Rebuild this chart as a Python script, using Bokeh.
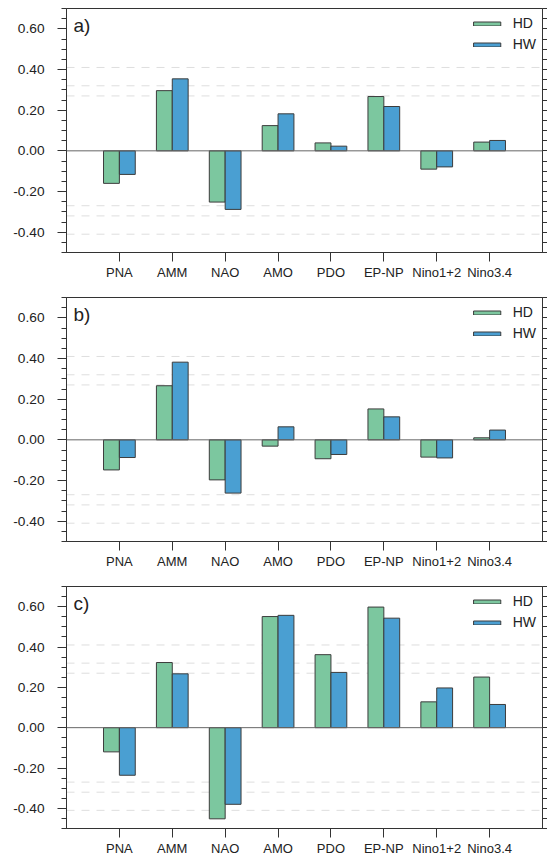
from bokeh.plotting import figure
from bokeh.layouts import column
from bokeh.models import (ColumnDataSource, FixedTicker, LinearAxis, Span, Label,
                          NumeralTickFormatter, Range1d, Legend, LegendItem,
                          CustomLabelingPolicy)
from bokeh.transform import dodge
from bokeh.embed import file_html
from bokeh.resources import INLINE

categories = ["PNA", "AMM", "NAO", "AMO", "PDO", "EP-NP", "Nino1+2", "Nino3.4"]
hd_a = [-0.160, 0.296, -0.252, 0.124, 0.039, 0.267, -0.090, 0.043]
hw_a = [-0.116, 0.354, -0.288, 0.182, 0.023, 0.218, -0.079, 0.051]
hd_b = [-0.148, 0.266, -0.197, -0.031, -0.093, 0.152, -0.085, 0.010]
hw_b = [-0.087, 0.382, -0.262, 0.064, -0.072, 0.113, -0.089, 0.048]
hd_c = [-0.120, 0.323, -0.452, 0.551, 0.362, 0.598, 0.128, 0.251]
hw_c = [-0.236, 0.267, -0.380, 0.557, 0.274, 0.543, 0.197, 0.115]
sig_levels = [0.27, 0.32, 0.41]
y_major = [-0.4, -0.2, 0.0, 0.2, 0.4, 0.6]
y_minor = [round(-0.5 + 0.05 * k, 2) for k in range(25)]
panel_labels = ["a)", "b)", "c)"]

FONT = "Liberation Sans"
GREEN = "#7cc79f"
BLUE = "#4a9fd2"
EDGE = "#3c3c3c"
AX = "#333333"


def make_panel(hd, hw, tag, height, bottom_border):
    xs = list(range(1, len(categories) + 1))
    src = ColumnDataSource(dict(x=xs, hd=hd, hw=hw))
    p = figure(width=547, height=height, output_backend="svg", toolbar_location=None,
               x_range=Range1d(0, 9), y_range=Range1d(-0.5, 0.7),
               min_border_left=66, min_border_right=5, min_border_top=8,
               min_border_bottom=bottom_border)
    p.xgrid.visible = False
    p.ygrid.visible = False
    p.outline_line_color = AX
    p.outline_line_width = 1

    for lv in sig_levels:
        for s in (1, -1):
            p.add_layout(Span(location=s * lv, dimension="width", line_color="#dedede",
                              line_width=1, line_dash="8 7", level="underlay"))

    r1 = p.vbar(x=dodge("x", -0.15, range=p.x_range), top="hd", bottom=0, width=0.3,
                source=src, fill_color=GREEN, line_color=EDGE, line_width=1)
    r2 = p.vbar(x=dodge("x", 0.15, range=p.x_range), top="hw", bottom=0, width=0.3,
                source=src, fill_color=BLUE, line_color=EDGE, line_width=1)
    p.add_layout(Span(location=0, dimension="width", line_color="#666666", line_width=1))

    # x axis
    xa = p.xaxis[0]
    xa.ticker = FixedTicker(ticks=xs, minor_ticks=[])
    xa.major_label_overrides = {x: c for x, c in zip(xs, categories)}
    xa.major_tick_in = 0
    xa.major_tick_out = 9
    xa.minor_tick_out = 0
    xa.major_label_standoff = 3
    xa.major_label_text_font = FONT
    xa.major_label_text_font_size = "13px"
    xa.major_label_text_color = "#222222"
    xa.axis_line_color = AX
    xa.major_tick_line_color = AX

    # y axis
    ya = p.yaxis[0]
    ya.ticker = FixedTicker(ticks=y_major, minor_ticks=y_minor)
    ya.formatter = NumeralTickFormatter(format="0.00")
    ya.major_tick_in = 0
    ya.major_tick_out = 9
    ya.minor_tick_in = 0
    ya.minor_tick_out = 5
    ya.major_label_standoff = 13
    ya.major_label_text_font = FONT
    ya.major_label_text_font_size = "13.7px"
    ya.major_label_text_color = "#222222"
    ya.axis_line_color = AX
    ya.major_tick_line_color = AX
    ya.minor_tick_line_color = AX

    ra = LinearAxis(ticker=FixedTicker(ticks=y_major, minor_ticks=y_minor))
    ra.major_tick_in = 0
    ra.major_tick_out = 5
    ra.minor_tick_in = 0
    ra.minor_tick_out = 5
    ra.major_label_standoff = 0
    ra.major_label_text_font_size = "0px"
    ra.major_label_policy = CustomLabelingPolicy(code="""
        const keep = [];
        for (const i of indices) keep.push(i);
        for (const i of keep) indices.unset(i);
        return indices;
    """)
    ra.axis_line_color = AX
    ra.major_tick_line_color = AX
    ra.minor_tick_line_color = AX
    p.add_layout(ra, "right")

    leg = Legend(items=[LegendItem(label="HD", renderers=[r1]),
                        LegendItem(label="HW", renderers=[r2])],
                 location="top_right", margin=6, padding=0, border_line_color=None,
                 background_fill_alpha=0, glyph_width=34, glyph_height=5,
                 label_height=18, spacing=3, label_standoff=9,
                 label_text_font=FONT, label_text_font_size="14px",
                 label_text_color="#222222")
    p.add_layout(leg)

    p.add_layout(Label(x=0.13, y=0.617, text=tag, text_font=FONT, text_font_size="19px",
                       text_baseline="middle", text_color="#222222"))
    return p


pa = make_panel(hd_a, hw_a, panel_labels[0], 289, 37)
pb = make_panel(hd_b, hw_b, panel_labels[1], 289, 37)
pc = make_panel(hd_c, hw_c, panel_labels[2], 280, 28)

layout = column(pa, pb, pc, spacing=0)
open("out.html", "w").write(file_html(layout, INLINE))
